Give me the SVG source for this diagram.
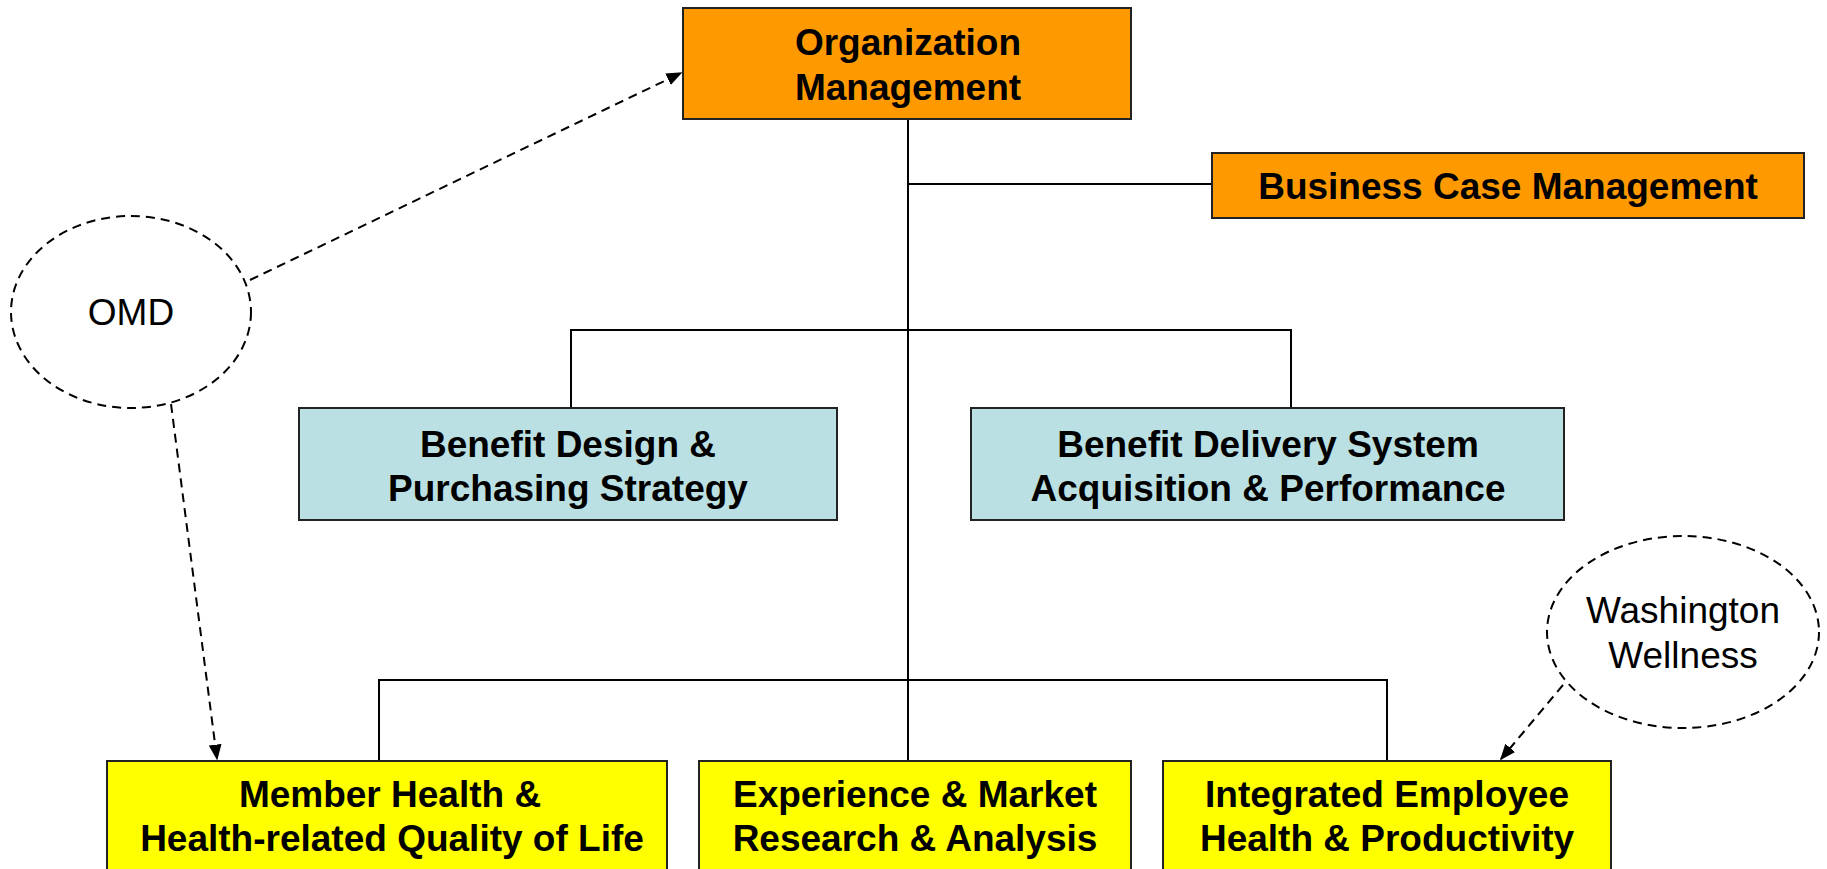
<svg xmlns="http://www.w3.org/2000/svg" width="1827" height="869" viewBox="0 0 1827 869">
<style>
.box{stroke:#222;stroke-width:2}
.org{fill:#FF9900}
.blue{fill:#BBE0E3}
.yel{fill:#FFFF00}
.t{font-family:"Liberation Sans",Arial,sans-serif;font-size:37px;font-weight:bold;text-anchor:middle;fill:#000}
.n{font-family:"Liberation Sans",Arial,sans-serif;font-size:37px;text-anchor:middle;fill:#000}
.ln{stroke:#000;stroke-width:2;fill:none}
.dash{stroke:#000;stroke-width:2;fill:none;stroke-dasharray:9 6}
</style>
<defs>
<marker id="ah" viewBox="0 0 10 10" refX="9" refY="5" markerWidth="8" markerHeight="8" markerUnits="userSpaceOnUse" orient="auto">
<path d="M0,0 L10,5 L0,10 z" fill="#000"/>
</marker>
<marker id="ahb" viewBox="0 0 10 10" refX="9" refY="5" markerWidth="16" markerHeight="16" markerUnits="userSpaceOnUse" orient="auto">
<path d="M0,1 L10,5 L0,9 z" fill="#000"/>
</marker>
</defs>
<g id="connectors">
<path class="ln" d="M908,119 V761"/>
<path class="ln" d="M908,184 H1212"/>
<path class="ln" d="M571,408 V330 H1291 V408"/>
<path class="ln" d="M379,761 V680 H1387 V761"/>
<path class="dash" d="M250,280 L681,73" marker-end="url(#ahb)"/>
<path class="dash" d="M171,404 L217,759" marker-end="url(#ahb)"/>
<path class="dash" d="M1563,685 L1501,759" marker-end="url(#ahb)"/>
</g>
<g id="org-management">
<rect class="box org" x="683" y="8" width="448" height="111"/>
<text class="t" x="908" y="55">Organization</text>
<text class="t" x="908" y="100">Management</text>
</g>
<g id="business-case">
<rect class="box org" x="1212" y="153" width="592" height="65"/>
<text class="t" x="1508" y="199">Business Case Management</text>
</g>
<g id="benefit-design">
<rect class="box blue" x="299" y="408" width="538" height="112"/>
<text class="t" x="568" y="457">Benefit Design &amp;</text>
<text class="t" x="568" y="501">Purchasing Strategy</text>
</g>
<g id="benefit-delivery">
<rect class="box blue" x="971" y="408" width="593" height="112"/>
<text class="t" x="1268" y="457">Benefit Delivery System</text>
<text class="t" x="1268" y="501">Acquisition &amp; Performance</text>
</g>
<g id="member-health">
<rect class="box yel" x="107" y="761" width="560" height="120"/>
<text class="t" x="390" y="807">Member Health &amp;</text>
<text class="t" x="392" y="851">Health-related Quality of Life</text>
</g>
<g id="experience">
<rect class="box yel" x="699" y="761" width="432" height="120"/>
<text class="t" x="915" y="807">Experience &amp; Market</text>
<text class="t" x="915" y="851">Research &amp; Analysis</text>
</g>
<g id="integrated">
<rect class="box yel" x="1163" y="761" width="448" height="120"/>
<text class="t" x="1387" y="807">Integrated Employee</text>
<text class="t" x="1387" y="851">Health &amp; Productivity</text>
</g>
<g id="omd">
<ellipse class="dash" cx="131" cy="312" rx="120" ry="96"/>
<text class="n" x="131" y="325">OMD</text>
</g>
<g id="washington-wellness">
<ellipse class="dash" cx="1683" cy="632" rx="136" ry="96"/>
<text class="n" x="1683" y="623">Washington</text>
<text class="n" x="1683" y="668">Wellness</text>
</g>
</svg>
